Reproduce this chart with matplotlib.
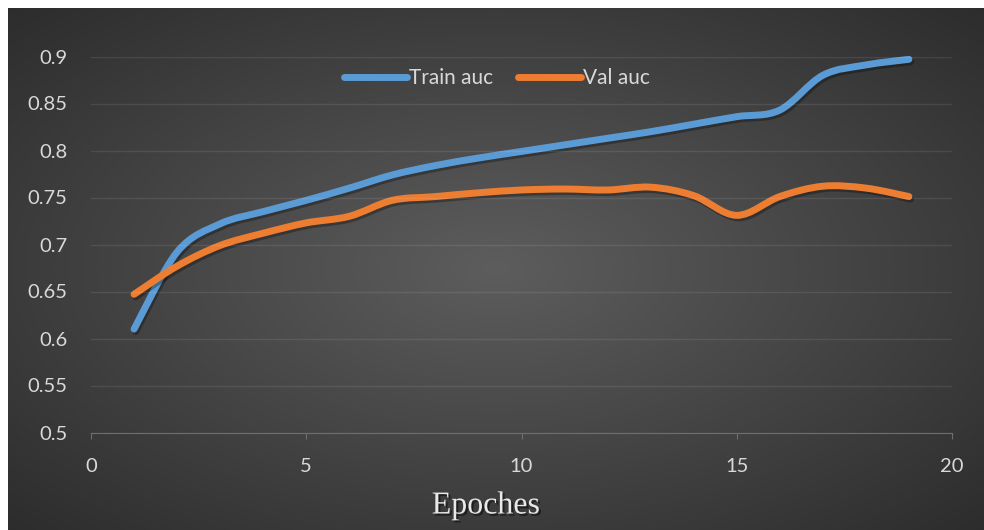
import numpy as np
import matplotlib
matplotlib.use("Agg")
import matplotlib.pyplot as plt
import matplotlib.patheffects as pe
from matplotlib.path import Path
from matplotlib.patches import PathPatch
from matplotlib.lines import Line2D

epochs = list(range(1, 20))
train_auc = [0.610, 0.692, 0.722, 0.735, 0.747, 0.760, 0.774, 0.784, 0.792, 0.799,
             0.806, 0.813, 0.820, 0.828, 0.836, 0.843, 0.880, 0.891, 0.897]
val_auc = [0.647, 0.677, 0.699, 0.712, 0.723, 0.730, 0.747, 0.751, 0.755, 0.758,
           0.759, 0.758, 0.761, 0.752, 0.731, 0.751, 0.762, 0.760, 0.751]

xticks = [0, 5, 10, 15, 20]
yticks = [0.5, 0.55, 0.6, 0.65, 0.7, 0.75, 0.8, 0.85, 0.9]
ylabels = ['0.5', '0.55', '0.6', '0.65', '0.7', '0.75', '0.8', '0.85', '0.9']

blue = '#5B9BD5'
orange = '#ED7D31'
txt = '#d9d9d9'

W, H = 984, 530
fig = plt.figure(figsize=(W / 100, H / 100), dpi=100, facecolor='white')

# radial gradient background (chart area, leaves thin white strip top/left)
bg = fig.add_axes([8 / W, 0, 1 - 8 / W, 1 - 8 / H])
gx, gy = np.meshgrid(np.linspace(-1, 1, 400), np.linspace(-1, 1, 220))
r = np.sqrt(gx ** 2 + gy ** 2) / np.sqrt(2)
c = 0.365 - 0.19 * r
bg.imshow(np.dstack([c, c, c]), aspect='auto', extent=[0, 1, 0, 1])
bg.axis('off')

ax = fig.add_axes([91 / W, 97.5 / H, 861 / W, 376 / H])
ax.patch.set_alpha(0)
ax.set_xlim(0, 20)
ax.set_ylim(0.5, 0.9)


def smooth_path(xs, ys):
    pts = np.column_stack([xs, ys])
    n = len(pts)
    verts = [pts[0]]
    codes = [Path.MOVETO]
    for i in range(n - 1):
        p0 = pts[max(i - 1, 0)]
        p1 = pts[i]
        p2 = pts[i + 1]
        p3 = pts[min(i + 2, n - 1)]
        verts += [p1 + (p2 - p0) / 6, p2 - (p3 - p1) / 6, p2]
        codes += [Path.CURVE4] * 3
    return Path(verts, codes)


shadow = [pe.SimpleLineShadow(offset=(1.2, -1.8), shadow_color='black', alpha=0.3),
          pe.Normal()]
for ys, col in [(train_auc, blue), (val_auc, orange)]:
    patch = PathPatch(smooth_path(epochs, ys), facecolor='none', edgecolor=col,
                      lw=5, capstyle='round', joinstyle='round', clip_on=False)
    patch.set_path_effects(shadow)
    ax.add_patch(patch)

ax.set_xticks(xticks)
ax.set_yticks(yticks)
ax.set_yticklabels(ylabels)
ax.grid(axis='y', color='white', alpha=0.09, lw=1)
for s in ['top', 'right', 'left']:
    ax.spines[s].set_visible(False)
ax.spines['bottom'].set_color('#6e6e6e')
ax.tick_params(axis='x', length=4, color='#6e6e6e', pad=14, labelsize=14.5,
               labelcolor=txt)
ax.tick_params(axis='y', length=0, pad=17, labelsize=14.5, labelcolor=txt)
for lab in ax.get_xticklabels() + ax.get_yticklabels():
    lab.set_fontfamily('Lato')

fig.text(486 / W, 1 - 506 / H, 'Epoches', ha='center', va='center',
         fontsize=23, family='Liberation Serif', color='#e8e8e8',
         path_effects=[pe.withSimplePatchShadow(offset=(1.5, -1.5),
                                                shadow_rgbFace='black', alpha=0.5)])

handles = [Line2D([], [], color=blue, lw=5, solid_capstyle='round'),
           Line2D([], [], color=orange, lw=5, solid_capstyle='round')]
leg = fig.legend(handles, ['Train auc', 'Val auc'], loc='center',
                 bbox_to_anchor=(497 / W, 1 - 78 / H), ncol=2, frameon=False,
                 handlelength=3.0, handletextpad=0.1, columnspacing=1.2,
                 prop={'family': 'Lato', 'size': 15})
for t in leg.get_texts():
    t.set_color(txt)

fig.savefig('out.png', dpi=100)
